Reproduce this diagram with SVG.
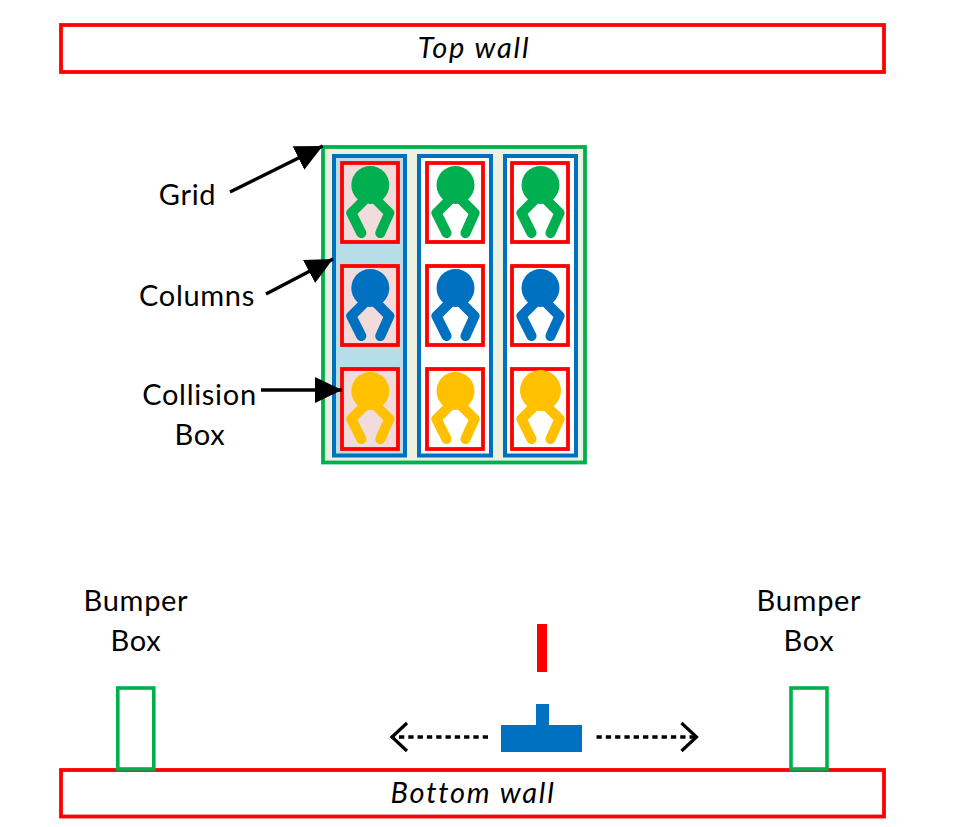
<svg xmlns="http://www.w3.org/2000/svg" width="963" height="827" viewBox="0 0 963 827">
<style>
text{font-family:"Lato","Open Sans",sans-serif;font-size:29px;fill:#000;text-anchor:middle;letter-spacing:.7px}
text.it{font-style:italic;letter-spacing:1.8px}
.wall{fill:#fff;stroke:#f00;stroke-width:3.8}
.bump{fill:none;stroke:#00b050;stroke-width:3.6}
.col{fill:#fff;stroke:#0070c0;stroke-width:4}
.box{fill:#fff;stroke:#f00;stroke-width:3.8}
.claw{fill:none;stroke-width:10.2;stroke-linecap:round;stroke-linejoin:round}
.g{fill:#00b050;stroke:#00b050}.b{fill:#0070c0;stroke:#0070c0}.y{fill:#ffc000;stroke:#ffc000}
.cn{fill:none;stroke:#000}
</style>
<defs>
<marker id="solid" markerUnits="userSpaceOnUse" markerWidth="30" markerHeight="30" refX="27" refY="13" orient="auto"><path d="M0 0L27 13L0 26Z" fill="#000"/></marker>
<marker id="open" markerUnits="userSpaceOnUse" markerWidth="22" markerHeight="34" refX="18" refY="16" orient="auto"><path d="M2 2L17 16L2 30" fill="none" stroke="#000" stroke-width="3.200"/></marker>
<g id="claw"><circle cx="0" cy="0" r="19" stroke="none"/><path class="claw" d="M-6 15L-19 28L-9 48M6 15L19 28L10 48" style="fill:none"/></g>
</defs>
<g id="top-wall"><rect class="wall" x="61" y="25" width="823" height="47"/><text class="it" x="474" y="58">Top wall</text></g>
<g id="grid"><rect x="323" y="147" width="262" height="315.500" fill="#ebf1de" stroke="#00b050" stroke-width="3.800"/></g>
<g id="column-1"><rect class="col" style="fill:#b7dde8" x="334" y="156" width="71" height="299.500"/></g>
<g id="column-2"><rect class="col" x="419" y="156" width="72" height="299.500"/></g>
<g id="column-3"><rect class="col" x="505" y="156" width="71" height="299.500"/></g>
<g id="box-1-1"><rect class="box" style="fill:#f2dcdb" x="342" y="163" width="56" height="79"/><use href="#claw" class="g" x="370.300" y="185"/></g>
<g id="box-1-2"><rect class="box" style="fill:#f2dcdb" x="342" y="266" width="56" height="79"/><use href="#claw" class="b" x="370.300" y="288"/></g>
<g id="box-1-3"><rect class="box" style="fill:#f2dcdb" x="342" y="369" width="56" height="80"/><use href="#claw" class="y" x="370.300" y="391"/></g>
<g id="box-2-1"><rect class="box" x="427" y="163" width="56" height="79"/><use href="#claw" class="g" x="455.500" y="185"/></g>
<g id="box-2-2"><rect class="box" x="427" y="266" width="56" height="79"/><use href="#claw" class="b" x="455.500" y="288"/></g>
<g id="box-2-3"><rect class="box" x="427" y="369" width="56" height="80"/><use href="#claw" class="y" x="455.500" y="391"/></g>
<g id="box-3-1"><rect class="box" x="512" y="163" width="56" height="79"/><use href="#claw" class="g" x="540.500" y="185"/></g>
<g id="box-3-2"><rect class="box" x="512" y="266" width="56" height="79"/><use href="#claw" class="b" x="540.500" y="288"/></g>
<g id="box-3-3"><rect class="box" x="512" y="369" width="56" height="80"/><use href="#claw" class="y" x="540.500" y="391"/><circle cx="540.500" cy="390.500" r="20.500" fill="#ffc000"/></g>
<g id="label-grid"><text x="187.500" y="205">Grid</text></g>
<g id="label-columns"><text x="197" y="306">Columns</text></g>
<g id="label-collision"><text x="199.500" y="405">Collision</text><text x="200" y="445">Box</text></g>
<g id="bottom-wall"><rect class="wall" x="61" y="770" width="823" height="46.500"/><text class="it" x="473" y="803">Bottom wall</text></g>
<g id="bumper-left"><rect class="bump" x="117.800" y="688" width="36" height="81"/><text x="136" y="611">Bumper</text><text x="136" y="651">Box</text></g>
<g id="bumper-right"><rect class="bump" x="791" y="688" width="36" height="81"/><text x="809" y="611">Bumper</text><text x="809" y="651">Box</text></g>
<g id="projectile"><rect x="537" y="624" width="10" height="48" fill="#f00"/></g>
<g id="cannon"><rect x="536" y="704" width="13" height="22" fill="#0070c0"/><rect x="501" y="725" width="81" height="27" fill="#0070c0"/></g>
<g id="connectors">
<path class="cn" stroke-width="3.500" marker-end="url(#solid)" d="M230 192L322.700 146"/>
<path class="cn" stroke-width="3.500" marker-end="url(#solid)" d="M266 294L333 259"/>
<path class="cn" stroke-width="3.500" marker-end="url(#solid)" d="M261 390L342 390"/>
<path class="cn" stroke-width="3.400" stroke-dasharray="5.300 4" marker-end="url(#open)" d="M488 737L391 737"/>
<path class="cn" stroke-width="3.400" stroke-dasharray="5.300 4" marker-end="url(#open)" d="M596.500 737L697.500 737"/>
</g>
</svg>
